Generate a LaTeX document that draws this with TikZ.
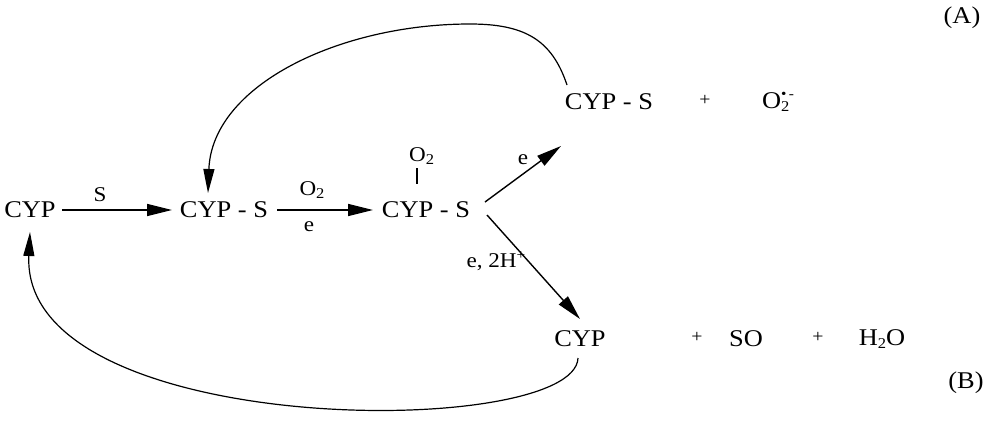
\documentclass[tikz,border=0pt]{standalone}
\usepackage{fontspec}
\setmainfont{Liberation Serif}[FakeStretch=1.1]
\usetikzlibrary{arrows.meta,calc}
\newcommand{\chsub}[1]{\raisebox{-0.35ex}{\fontsize{15}{15}\selectfont #1}}
\newcommand{\chsup}[1]{\raisebox{0.85ex}{\fontsize{14}{14}\selectfont #1}}
\begin{document}
\begin{tikzpicture}[x=1pt,y=-1pt,
  lbl/.style={inner sep=1pt, font=\fontsize{24}{28}\selectfont},
  sm/.style={inner sep=1pt, font=\fontsize{21}{25}\selectfont},
  pl/.style={inner sep=1pt, font=\fontsize{18}{20}\selectfont},
  conn/.style={line width=1.4pt, -{Triangle[length=25pt,width=12pt]}},
  curv/.style={line width=1.2pt, -{Triangle[length=24pt,width=11pt]}},
  plain/.style={line width=1.2pt}]
\useasboundingbox (0,0) rectangle (997,432);
% main row
\node[lbl] (cyp1) at (30,210) {CYP};
\node[lbl] (cyps1) at (224,210) {CYP - S};
\node[lbl] (cyps2) at (426,210) {CYP - S};
\node[sm,anchor=west] (o2top) at (408,156) {O\chsub{2}};
% top row
\node[lbl] (cyps3) at (609,102) {CYP - S};
\node[pl] (plusA) at (705,100) {+};
\node[lbl] (supox) at (778,102) {O\rlap{\chsub{2}}\chsup{\textbullet\,-}};
% bottom row
\node[lbl] (cyp2) at (580,339) {CYP};
\node[pl] (plusB1) at (697,337) {+};
\node[lbl] (so) at (746,339) {SO};
\node[pl] (plusB2) at (818,337) {+};
\node[lbl] (h2o) at (882,339) {H\chsub{2}O};
% labels
\node[lbl] (labA) at (962,18) {(A)};
\node[lbl] (labB) at (966,383) {(B)};
% arrows
\draw[conn] (62,210) coordinate (a1s) -- (172,210) coordinate (a1e);
\node[sm] (lS) at (100,195) {S};
\draw[conn] (277,210) coordinate (a2s) -- (373,210) coordinate (a2e);
\node[sm] (lO2) at (312,190) {O\chsub{2}};
\node[sm] (le1) at (309,227) {e};
\draw[plain] (417,168) coordinate (vtop) -- (417,184) coordinate (vbot);
\coordinate (bu) at (485,202);
\coordinate (bd) at (487,215);
\draw[conn] (bu) -- (561,146) coordinate (bue);
\node[sm] (le2) at (523,160) {e};
\draw[conn] (bd) -- (580,319) coordinate (bde);
\node[sm] (le3) at (496,261) {e, 2H\chsup{+}};
% curves
\coordinate (tp) at (470,24);
\draw[curv] (567,85) .. controls (552,40) and (525,24) .. (tp)
  .. controls (340,24) and (212,85) .. (208,193);
\draw[curv] (578,358) .. controls (575,440) and (20,440) .. (30,232);
\end{tikzpicture}
\end{document}
